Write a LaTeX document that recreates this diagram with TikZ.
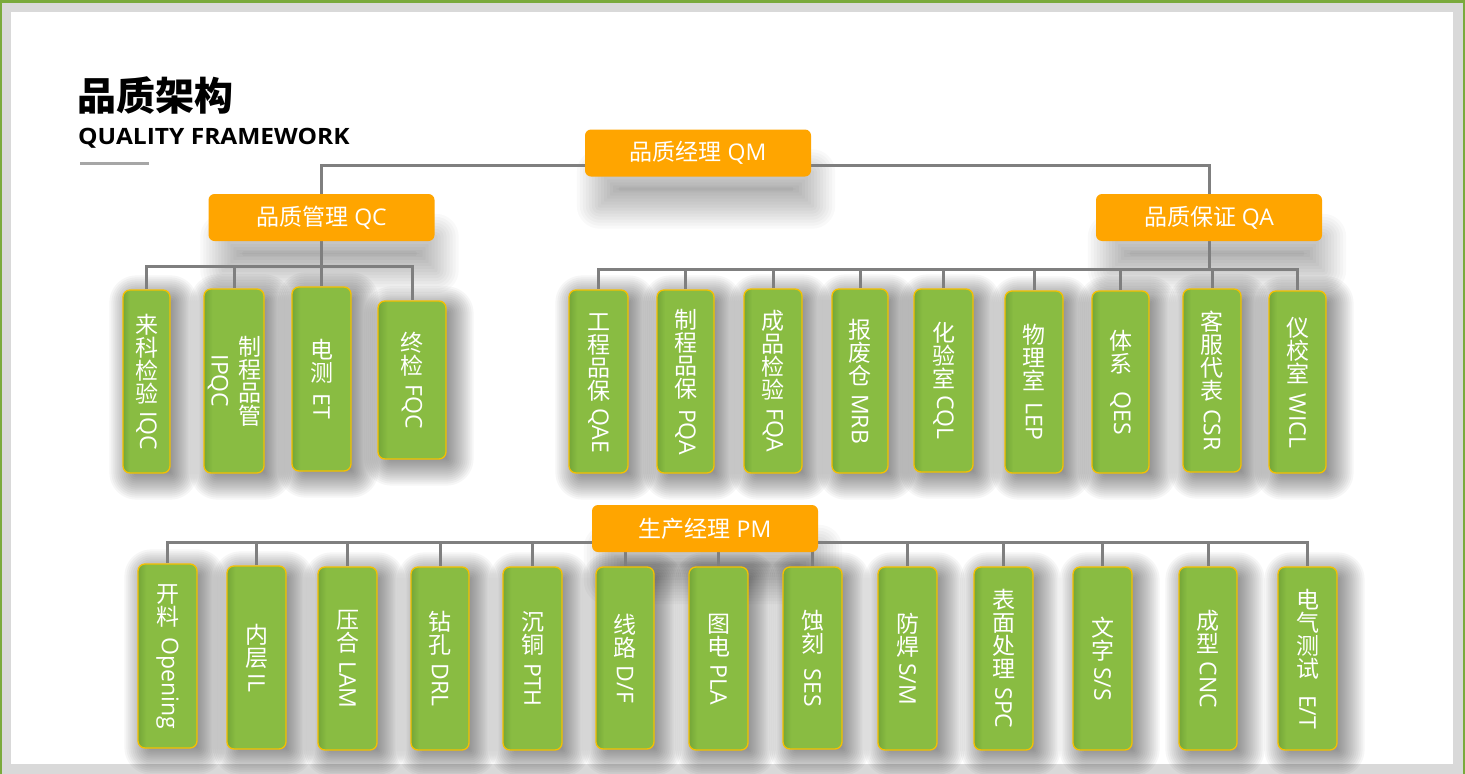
\documentclass[tikz,border=0pt]{standalone}
\usepackage{fontspec}
\setmainfont{Open Sans}
\newfontfamily\cjk{Noto Sans CJK SC}
\definecolor{gmain}{RGB}{137,188,66}
\definecolor{gdark}{RGB}{116,166,56}
\definecolor{gold}{RGB}{245,192,0}
\definecolor{orng}{RGB}{255,165,0}
\definecolor{wiregray}{RGB}{127,127,127}
\definecolor{framegray}{RGB}{217,217,217}
\definecolor{edgegreen}{RGB}{122,170,60}
\definecolor{rulegray}{RGB}{166,166,166}
\pgfdeclarehorizontalshading{gshade}{100bp}{color(0bp)=(gdark); color(25bp)=(gdark); color(32bp)=(gmain); color(100bp)=(gmain)}
\pgfdeclarelayer{bg}\pgfdeclarelayer{shade}\pgfdeclarelayer{wire}
\pgfsetlayers{bg,shade,wire,main}
% vertical text helpers
\newcommand\cjkstack[1]{\foreach \vc in {#1}{\hbox to 1em{\hss\vrule height .88em depth .12em width 0pt{\cjk\vc}\hss}}}
\newcommand\latstack[1]{\hbox to 1em{\hss\rotatebox{-90}{#1}\hss}}
\newcommand\vcol[3]{\vbox{\offinterlineskip\cjkstack{#1}\kern#2\latstack{#3}}}
\newcommand\gnode[6]{\node[gbox, minimum width={(#3-#2)*1pt}, minimum height={(#5-#4)*1pt}] (#1) at ({(#2+#3)/2},{(#4+#5)/2}) {#6};}
% soft shadow: node, dx, dy, inset, step, opacity
\newcommand\softshadow[6]{%
 \foreach \k in {-4,...,10}{%
  \pgfmathsetmacro\g{#5*\k-#4}%
  \pgfmathsetmacro\rr{max(1,7+\g)}%
  \fill[black, fill opacity=#6, rounded corners=\rr pt]
    ([xshift={(#2-\g)*1pt},yshift={(#3+\g)*1pt}]#1.north west) rectangle
    ([xshift={(#2+\g)*1pt},yshift={(#3-\g)*1pt}]#1.south east);}}
\tikzset{
  gbox/.style={rounded corners=7pt, draw=gold, line width=1.3pt, shading=gshade, text=white, inner sep=0pt, font=\fontsize{23}{26}\selectfont},
  obox/.style={rounded corners=6pt, fill=orng, text=white, inner sep=0pt, minimum width=226pt, minimum height=47pt, font=\fontsize{23}{26}\selectfont},
  wire/.style={draw=wiregray, line width=3pt, line join=miter}
}
\begin{document}
\begin{tikzpicture}[x=1pt,y=-1pt]
\useasboundingbox (0,0) rectangle (1465,774);
\begin{pgfonlayer}{bg}
\fill[framegray] (0,0) rectangle (1465,774);
\fill[edgegreen] (0,0) rectangle (1465,2.5);
\fill[edgegreen] (0,0) rectangle (2,774);
\fill[edgegreen] (1462.5,0) rectangle (1465,774);
\fill[white] (11,12) rectangle (1453,764);
\end{pgfonlayer}
% title
\node[anchor=base west, inner sep=0pt, font=\cjk\bfseries\fontsize{39}{40}\selectfont] (title) at (77,110.5) {品质架构};
\node[anchor=base west, inner sep=0pt, font=\bfseries\fontsize{22.5}{24}\selectfont] (subtitle) at (78,144) {\scalebox{1.09}[1]{QUALITY FRAMEWORK}};
\coordinate (ruleA) at (80,163.5);
\coordinate (ruleB) at (149,163.5);
\draw[rulegray, line width=3pt] (ruleA) -- (ruleB);
% managers
\node[obox] (qm) at (698,153) {{\cjk 品质经理} QM};
\node[obox] (qc) at (321.5,217.5) {{\cjk 品质管理} QC};
\node[obox] (qa) at (1209,217.5) {{\cjk 品质保证} QA};
\node[obox] (pm) at (705,528.5) {{\cjk 生产经理} PM};
% QC children
\gnode{c1}{123}{170}{290}{473}{\vcol{来,科,检,验}{6pt}{IQC}}
\gnode{c2}{204}{264}{289}{473}{\hbox{$\vcenter{\offinterlineskip\latstack{IPQC}}\kern9pt\vcenter{\offinterlineskip\cjkstack{制,程,品,管}}$}}
\gnode{c3}{292}{351}{287}{471}{\vcol{电,测}{9pt}{ET}}
\gnode{c4}{378}{446}{301}{459}{\vcol{终,检}{8pt}{FQC}}
% QA children
\gnode{a1}{569}{628}{290}{473}{\vcol{工,程,品,保}{6pt}{QAE}}
\gnode{a2}{657}{714}{290}{473}{\vcol{制,程,品,保}{9pt}{PQA}}
\gnode{a3}{744}{802}{289}{473}{\vcol{成,品,检,验}{7pt}{FQA}}
\gnode{a4}{832}{888}{289}{473}{\vcol{报,废,仓}{7pt}{MRB}}
\gnode{a5}{914}{973}{289}{472}{\vcol{化,验,室}{5pt}{CQL}}
\gnode{a6}{1005}{1063}{291}{473}{\vcol{物,理,室}{10pt}{LEP}}
\gnode{a7}{1092}{1149}{291}{473}{\vcol{体,系}{17pt}{QES}}
\gnode{a8}{1183}{1241}{289}{472}{\vcol{客,服,代,表}{7pt}{CSR}}
\gnode{a9}{1269}{1326}{291}{473}{\vcol{仪,校,室}{9pt}{WICL}}
% PM children
\gnode{p1}{138}{197}{564}{748}{\vcol{开,料}{9pt}{Opening}}
\gnode{p2}{227}{286}{566}{749}{\vcol{内,层}{5pt}{IL}}
\gnode{p3}{318}{377}{567}{750}{\vcol{压,合}{7pt}{LAM}}
\gnode{p4}{411}{469}{567}{750}{\vcol{钻,孔}{7pt}{DRL}}
\gnode{p5}{503}{562}{567}{750}{\vcol{沉,铜}{7pt}{PTH}}
\gnode{p6}{596}{654}{567}{749}{\vcol{线,路}{7pt}{D/F}}
\gnode{p7}{689}{748}{567}{750}{\vcol{图,电}{7pt}{PLA}}
\gnode{p8}{783}{842}{567}{749}{\vcol{蚀,刻}{14pt}{SES}}
\gnode{p9}{878}{937}{567}{750}{\vcol{防,焊}{5pt}{S/M}}
\gnode{p10}{974}{1033}{567}{750}{\vcol{表,面,处,理}{7pt}{SPC}}
\gnode{p11}{1073}{1132}{567}{750}{\vcol{文,字}{5pt}{S/S}}
\gnode{p12}{1179}{1237}{567}{750}{\vcol{成,型}{7pt}{CNC}}
\gnode{p13}{1278}{1337}{567}{750}{\vcol{电,气,测,试}{15pt}{E/T}}
% shadows
\begin{pgfonlayer}{shade}
\foreach \n in {c1,c2,c3,c4,a1,a2,a3,a4,a5,a6,a7,a8,a9,p1,p2,p3,p4,p5,p6,p7,p8,p9,p10,p11,p12,p13}
  {\softshadow{\n}{7}{-6}{0}{2}{0.035}}
\foreach \n in {qm,qc,qa,pm}
  {\softshadow{\n}{8}{-36}{14}{3}{0.025}}
\end{pgfonlayer}
% connectors
\coordinate (qmy) at (0,165);
\coordinate (qcy) at (0,266);
\coordinate (qay) at (0,269);
\coordinate (pmy) at (0,542);
\begin{pgfonlayer}{wire}
\draw[wire] (qc) |- (qmy -| qm) ;
\draw[wire] (qa) |- (qmy -| qm) ;
\draw[wire] (qc) -- (qc |- qcy);
\draw[wire] (c1) -- (c1 |- qcy) -- (c4 |- qcy) -- (c4);
\foreach \n in {c2,c3} \draw[wire] (\n) -- (\n |- qcy);
\draw[wire] (qa) -- (qa |- qay);
\draw[wire] (a1) -- (a1 |- qay) -- (a9 |- qay) -- (a9);
\foreach \n in {a2,a3,a4,a5,a6,a7,a8} \draw[wire] (\n) -- (\n |- qay);
\draw[wire] (p1) -- (p1 |- pmy) -- (p13 |- pmy) -- (p13);
\foreach \n in {p2,p3,p4,p5,p6,p7,p8,p9,p10,p11,p12} \draw[wire] (\n) -- (\n |- pmy);
\end{pgfonlayer}
\end{tikzpicture}
\end{document}
